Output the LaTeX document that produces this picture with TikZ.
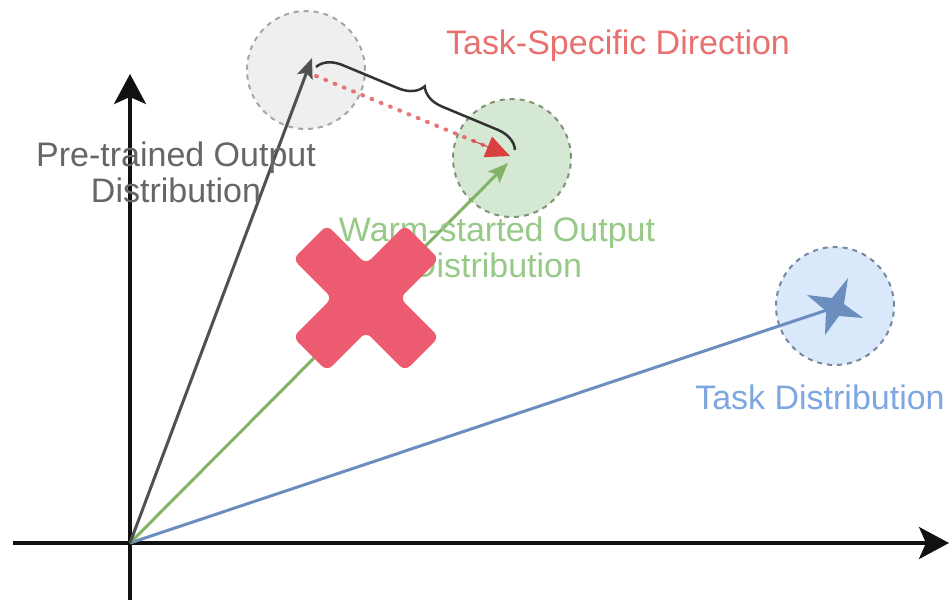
\documentclass[tikz,border=0pt]{standalone}
\usepackage{fontspec}
\setmainfont{Liberation Sans}
\usetikzlibrary{arrows.meta,decorations.pathreplacing,calc}
\definecolor{axisc}{HTML}{111111}
\definecolor{grayarr}{HTML}{505050}
\definecolor{greenarr}{HTML}{82B366}
\definecolor{bluearr}{HTML}{6C8EBF}
\definecolor{grayfill}{HTML}{EFEFEF}
\definecolor{greenfill}{HTML}{D5E8D4}
\definecolor{bluefill}{HTML}{DAE8FC}
\definecolor{redtxt}{HTML}{E8706E}
\definecolor{reddot}{HTML}{E67676}
\definecolor{redhead}{HTML}{D9403F}
\definecolor{graytxt}{HTML}{666666}
\definecolor{greentxt}{HTML}{97C987}
\definecolor{bluetxt}{HTML}{7EA6E0}
\definecolor{xred}{HTML}{EC5B70}
\definecolor{bracec}{HTML}{333333}
\tikzset{
  axisline/.style={draw=axisc,line width=3.5pt,-{Stealth[length=30pt,width=32pt,inset=7pt]}},
  vecline/.style={line width=3pt},
  distcircle/.style={circle,draw=#1,dash pattern=on 5pt off 5pt,line width=2pt,minimum size=118pt,inner sep=0pt},
  lbl/.style={font=\fontsize{34}{36}\selectfont,align=center,inner sep=0pt},
}
\begin{document}
\begin{tikzpicture}[x={(1pt,0pt)},y={(0pt,-1pt)}]
\useasboundingbox[fill=white] (0,0) rectangle (951,600);
% distribution circles
\node[distcircle=gray!70,fill=grayfill] (pc) at (306,70) {};
\node[distcircle=gray!60!greenarr,fill=greenfill] (wc) at (512,158) {};
\node[distcircle=gray!50!bluearr,fill=bluefill] (tc) at (835,306) {};
% origin and end points
\coordinate (O) at (130,543);
\coordinate (xl) at (13,543);
\coordinate (xr) at (949,543);
\coordinate (yb) at (130,600);
\coordinate (yt) at (130,74);
\coordinate (pt) at (312,58);
\coordinate (wt) at (508,163);
\coordinate (tt) at (833,308);
\coordinate (rs) at (316,76);
\coordinate (re) at (510,156);
\coordinate (bs) at (316,67);
\coordinate (be) at (515,150);
% axes
\draw[axisline] (xl) -- (xr);
\draw[axisline] (yb) -- (yt);
% vectors
\draw[vecline,draw=bluearr] (O) -- (tt);
\draw[vecline,draw=greenarr,-{Stealth[length=20pt,width=16pt,inset=4pt]}] (O) -- (wt);
\draw[vecline,draw=grayarr,-{Stealth[length=20pt,width=16pt,inset=4pt]}] (O) -- (pt);
% task-specific direction
\draw[reddot,line width=4pt,line cap=round,dash pattern=on 1pt off 9pt,shorten >=18pt] (rs) -- (re);
\draw[redhead,line width=1pt,-{Triangle[length=24pt,width=22pt]}] ($(rs)!0.8!(re)$) -- (re);
\draw[bracec,line width=2.5pt,decorate,decoration={brace,amplitude=24pt}] (bs) -- (be);
% star
\fill[bluearr] (848,278) -- (832,298) -- (807,295) -- (826,311) -- (825,335) -- (839,316) -- (863,318) -- (844,304) -- cycle;
% labels
\node[lbl,text=redtxt] (tsd) at (618,46) {Task-Specific Direction};
\node[lbl,text=graytxt] (pl) at (176,172) {Pre-trained Output\\Distribution};
\node[lbl,text=greentxt] (wl) at (497,247) {Warm-started Output\\Distribution};
\node[lbl,text=bluetxt] (tl) at (820,397) {Task Distribution};
% red cross
\fill[xred,rounded corners=7pt] (366,264) -- (405,225) -- (439,259) -- (400,298) -- (439,337) -- (405,371) -- (366,332) -- (327,371) -- (293,337) -- (332,298) -- (293,259) -- (327,225) -- cycle;
\end{tikzpicture}
\end{document}
